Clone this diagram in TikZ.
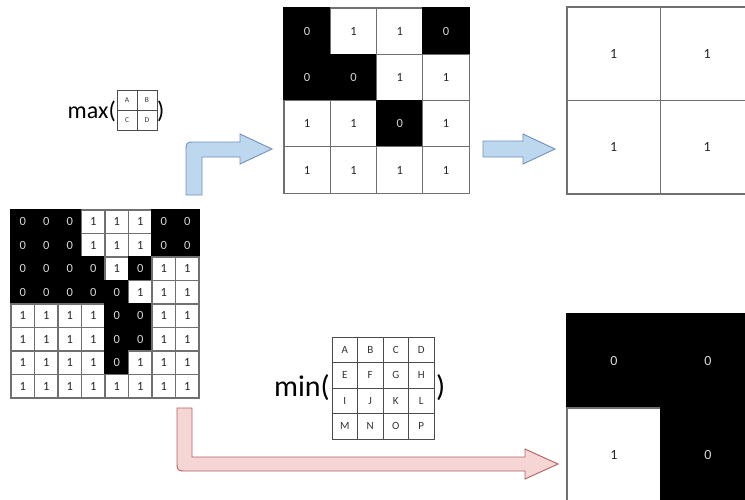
\documentclass[tikz,border=0pt]{standalone}
\usepackage{fontspec}
\setmainfont{Carlito}
\usetikzlibrary{positioning,calc}
\definecolor{gridgray}{HTML}{707070}
\definecolor{softblue}{HTML}{BDD7EE}
\definecolor{edgeblue}{HTML}{7191BC}
\definecolor{softred}{HTML}{F6D6D5}
\definecolor{edgered}{HTML}{B0625F}

\begin{document}
\begin{tikzpicture}[x=1pt,y=-1pt,
  cell/.style={draw=gridgray,line width=1.1pt,inner sep=0pt},
  bit1/.style={cell,fill=white,text=black!85},
  bit0/.style={cell,fill=black,draw=black,text=white!85!black},
  letter/.style={draw=black!70,line width=0.9pt,inner sep=0pt,fill=white,text=black!80},
  fatarrow/.style={line width=0.9pt,line join=miter}
]
\clip (0,0) rectangle (745,499);
\fill[white] (0,0) rectangle (745,499);

% input image 8x8
\begin{scope}[every node/.append style={minimum size=23.5pt,font=\fontsize{12.5}{12.5}\selectfont}]
\foreach \row [count=\r] in {{0,0,0,1,1,1,0,0},{0,0,0,1,1,1,0,0},{0,0,0,0,1,0,1,1},{0,0,0,0,0,1,1,1},
                             {1,1,1,1,0,0,1,1},{1,1,1,1,0,0,1,1},{1,1,1,1,0,1,1,1},{1,1,1,1,1,1,1,1}}{
  \foreach \v [count=\c] in \row {
    \node[bit\v] (in-\r-\c) at ({11+23.5*\c-11.75},{210+23.5*\r-11.75}) {\v};
  }
}
\end{scope}

% max pooling result 4x4
\begin{scope}[every node/.append style={minimum size=46.3pt,font=\fontsize{12.5}{12.5}\selectfont}]
\foreach \row [count=\r] in {{0,1,1,0},{0,0,1,1},{1,1,0,1},{1,1,1,1}}{
  \foreach \v [count=\c] in \row {
    \node[bit\v] (mx-\r-\c) at ({284+46.3*\c-23.15},{8+46.3*\r-23.15}) {\v};
  }
}
\end{scope}

% second max pooling 2x2
\begin{scope}[every node/.append style={minimum size=93.5pt,font=\fontsize{14}{14}\selectfont}]
\foreach \row [count=\r] in {{1,1},{1,1}}{
  \foreach \v [count=\c] in \row {
    \node[bit\v] (mm-\r-\c) at ({567+93.5*\c-46.75},{7+93.5*\r-46.75}) {\v};
  }
}
\end{scope}

% min pooling result 2x2
\begin{scope}[every node/.append style={minimum size=94pt,font=\fontsize{14}{14}\selectfont}]
\foreach \row [count=\r] in {{0,0},{1,0}}{
  \foreach \v [count=\c] in \row {
    \node[bit\v] (mn-\r-\c) at ({567+94*\c-47},{314+94*\r-47}) {\v};
  }
}
\end{scope}

% max( ) formula
\begin{scope}[every node/.append style={letter,minimum size=20pt,font=\fontsize{7.5}{7.5}\selectfont}]
\node (ka) at (127,100) {A};
\node (kb) at (147,100) {B};
\node (kc) at (127,120) {C};
\node (kd) at (147,120) {D};
\end{scope}
\node[anchor=east,inner sep=0pt,font=\fontsize{24}{24}\selectfont] (maxtxt) at (116,111) {max(};
\node[anchor=west,inner sep=0pt,font=\fontsize{24}{24}\selectfont] (maxend) at (157,111) {)};

% min( ) formula
\begin{scope}[every node/.append style={letter,minimum size=25.5pt,font=\fontsize{11}{11}\selectfont}]
\foreach \t [count=\i from 0] in {A,B,C,D,E,F,G,H,I,J,K,L,M,N,O,P}{
  \pgfmathtruncatemacro{\rr}{int(\i/4)}
  \pgfmathtruncatemacro{\cc}{mod(\i,4)}
  \node (w-\i) at ({332+25.5*\cc+12.75},{337+25.5*\rr+12.75}) {\t};
}
\end{scope}
\node[anchor=east,inner sep=0pt,font=\fontsize{30}{30}\selectfont] (mintxt) at (330,388) {min(};
\node[anchor=west,inner sep=0pt,font=\fontsize{30}{30}\selectfont] (minend) at (436,388) {)};

% arrows
\draw[fatarrow,fill=softblue,draw=edgeblue] (202,195) -- (202,157) -- (240,157) -- (240,164) -- (272,149)
  -- (240,134) -- (240,142) -- (196,142) .. controls (186,142) .. (186,152) -- (186,195) -- cycle;
\draw[fatarrow,fill=softblue,draw=edgeblue] (483,141) -- (523,141) -- (523,134) -- (555,149)
  -- (523,164) -- (523,157) -- (483,157) -- cycle;
\draw[fatarrow,fill=softred,draw=edgered] (177,408) -- (192,408) -- (192,457) -- (525,457) -- (525,449)
  -- (558,464) -- (525,479) -- (525,471) -- (187,471) .. controls (177,471) .. (177,461) -- cycle;
\end{tikzpicture}
\end{document}
